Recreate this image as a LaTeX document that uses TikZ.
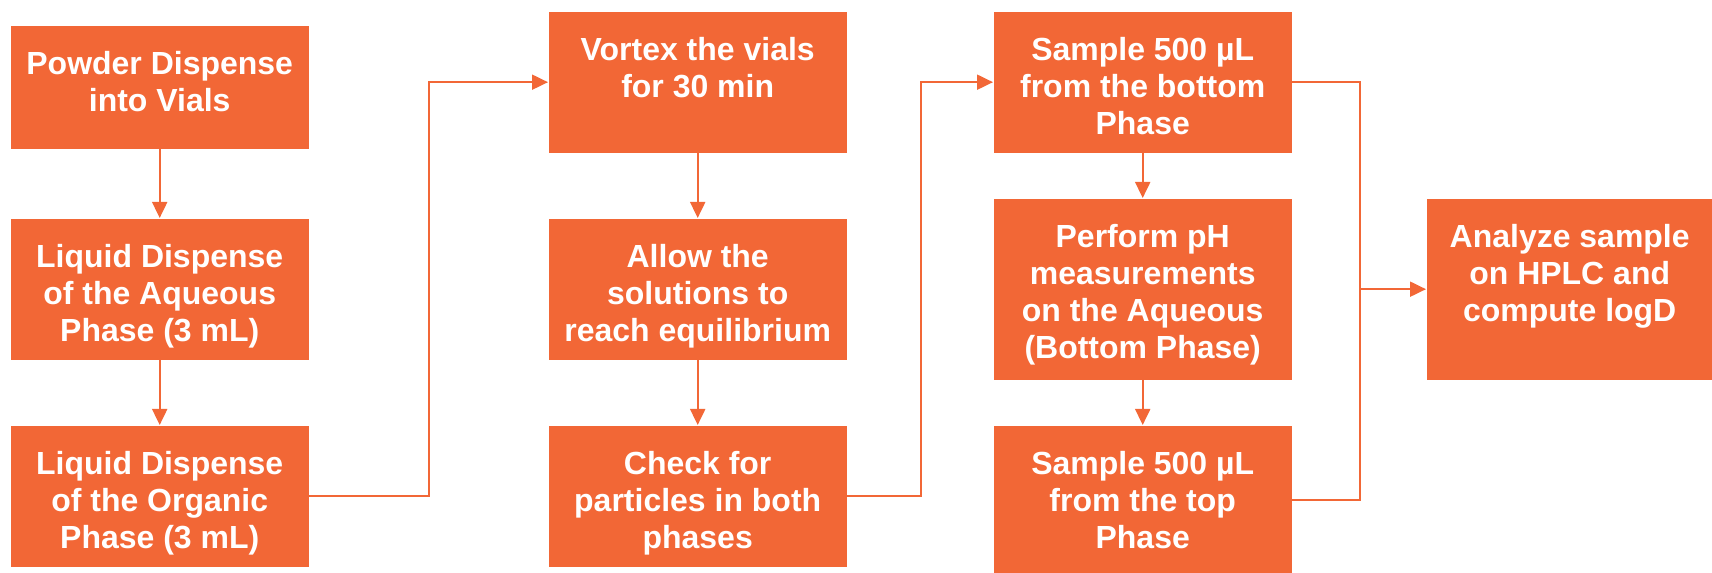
\documentclass[tikz,border=0pt]{standalone}
\usepackage{fontspec}
\setmainfont{Liberation Sans}
\usetikzlibrary{arrows.meta}
\definecolor{steporange}{HTML}{F26736}
\newcommand{\boxtext}[3]{\parbox[c][#2][t]{#1}{\centering\rule{0pt}{0.49cm}#3}}
\tikzset{
  stepbox/.style={fill=steporange, text=white, inner sep=0pt, anchor=north west,
    font=\fontsize{9.1}{10.5}\selectfont\bfseries},
  flow/.style={draw=steporange, line width=0.57pt}
}
\begin{document}
\begin{tikzpicture}[>={Triangle[length=0.16cm,width=0.15cm]}]
\useasboundingbox (0,0) rectangle (17.12,5.73);
\node[stepbox] (powder) at (0.10,5.48) {\boxtext{2.98cm}{1.23cm}{Powder Dispense\\into Vials}};
\node[stepbox] (aqueous) at (0.10,3.55) {\boxtext{2.98cm}{1.41cm}{Liquid Dispense\\of the Aqueous\\Phase (3 mL)}};
\node[stepbox] (organic) at (0.10,1.48) {\boxtext{2.98cm}{1.41cm}{Liquid Dispense\\of the Organic\\Phase (3 mL)}};
\node[stepbox] (vortex) at (5.48,5.62) {\boxtext{2.98cm}{1.41cm}{Vortex the vials\\for 30 min}};
\node[stepbox] (equil) at (5.48,3.55) {\boxtext{2.98cm}{1.41cm}{Allow the\\solutions to\\reach equilibrium}};
\node[stepbox] (check) at (5.48,1.48) {\boxtext{2.98cm}{1.41cm}{Check for\\particles in both\\phases}};
\node[stepbox] (bottomsample) at (9.93,5.62) {\boxtext{2.98cm}{1.41cm}{Sample 500 µL\\from the bottom\\Phase}};
\node[stepbox] (ph) at (9.93,3.75) {\boxtext{2.98cm}{1.81cm}{Perform pH\\measurements\\on the Aqueous\\(Bottom Phase)}};
\node[stepbox] (topsample) at (9.93,1.48) {\boxtext{2.98cm}{1.48cm}{Sample 500 µL\\from the top\\Phase}};
\node[stepbox] (analyze) at (14.26,3.75) {\boxtext{2.86cm}{1.81cm}{Analyze sample\\on HPLC and\\compute logD}};
\draw[flow,->] (powder) -- (aqueous);
\draw[flow,->] (aqueous) -- (organic);
\draw[flow,->] (organic.east) -- ++(1.20,0) |- (vortex.west);
\draw[flow,->] (vortex) -- (equil);
\draw[flow,->] (equil) -- (check);
\draw[flow,->] (check.east) -- ++(0.74,0) |- (bottomsample.west);
\draw[flow,->] (bottomsample) -- (ph);
\draw[flow,->] (ph) -- (topsample);
\draw[flow] (bottomsample.east) -- ++(0.68,0) coordinate (split) |- (topsample.east);
\draw[flow,->] (split |- analyze.west) -- (analyze.west);
\end{tikzpicture}
\end{document}
